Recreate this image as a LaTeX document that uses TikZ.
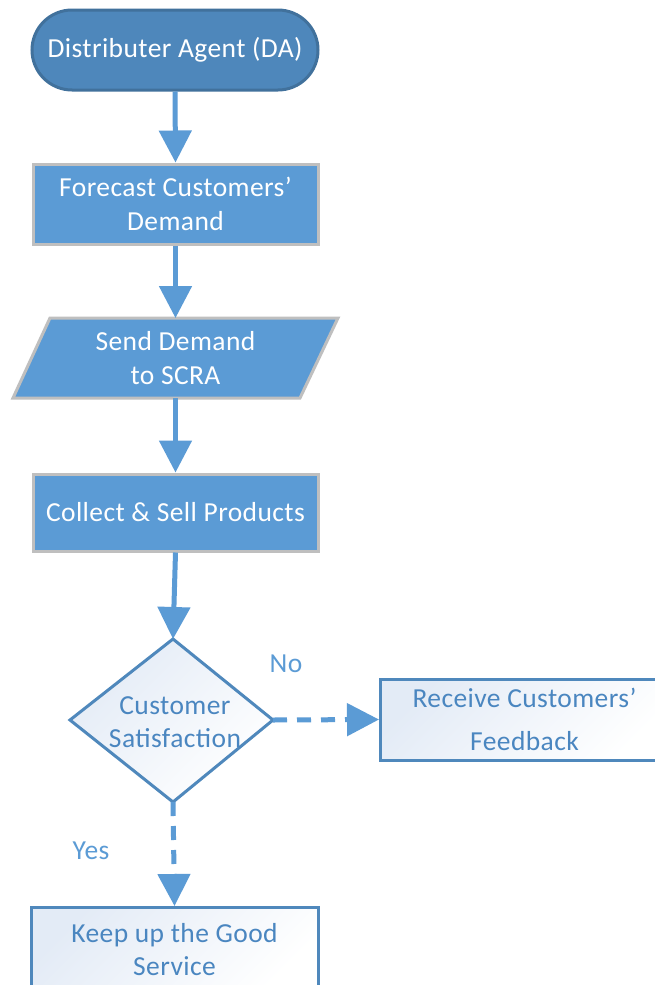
\documentclass[tikz,border=0pt]{standalone}
\usepackage{fontspec}
\setmainfont{Carlito}[LetterSpace=1.5]
\usetikzlibrary{shapes.geometric,shapes.misc,arrows.meta}
\definecolor{mblue}{HTML}{5B9BD5}
\definecolor{dblue}{HTML}{4E87BB}
\definecolor{dborder}{HTML}{41719C}
\definecolor{gborder}{HTML}{BFBFBF}
\definecolor{lborder}{HTML}{4F88BC}
\definecolor{ltext}{HTML}{4A86C0}
\definecolor{pale}{HTML}{E3EBF6}
\tikzset{
  pt/.style={x=1pt,y=-1pt},
  bigfont/.style={font=\fontsize{27.5}{33.5}\selectfont},
  filledbox/.style={draw=gborder,line width=3pt,fill=mblue,text=white,bigfont,align=center},
  lightshade/.style={left color=pale,right color=white,shading angle=45},
  lightbox/.style={draw=lborder,line width=3pt,text=ltext,bigfont,align=center,lightshade},
  conn/.style={draw=mblue,line width=5pt,-{Triangle[length=32pt,width=32pt]}},
  dconn/.style={conn,dash pattern=on 14pt off 10pt},
  lbl/.style={text=mblue,bigfont}
}
\begin{document}
\begin{tikzpicture}[pt]
\useasboundingbox (0,0) rectangle (655,985);
\fill[white] (0,0) rectangle (655,985);
% terminal
\node[draw=dborder,line width=3pt,fill=dblue,text=white,rounded rectangle,minimum width=286pt,minimum height=80pt,inner sep=0pt,bigfont] (da) at (175,50) {Distributer Agent (DA)};
\node[filledbox,minimum width=285pt,minimum height=80pt,inner sep=0pt] (fc) at (175.5,204) {Forecast Customers'\\Demand};
\coordinate (p1) at (50,318);
\coordinate (p2) at (338,318);
\coordinate (p3) at (300,398);
\coordinate (p4) at (13,398);
\draw[draw=gborder,line width=3pt,fill=mblue] (p1) -- (p2) -- (p3) -- (p4) -- cycle;
\node[text=white,bigfont,align=center] (sd) at (175.5,358) {Send Demand\\to SCRA};
\coordinate (sdtop) at (175.5,318);
\coordinate (sdbot) at (175.5,398);
\node[filledbox,minimum width=285pt,minimum height=77pt,inner sep=0pt] (cs) at (175.5,512.5) {Collect \& Sell Products};
\coordinate (d1) at (173,639);
\coordinate (d2) at (273,720);
\coordinate (d3) at (173,802);
\coordinate (d4) at (70,720);
\draw[draw=lborder,line width=3pt,lightshade] (d1) -- (d2) -- (d3) -- (d4) -- cycle;
\node[text=ltext,bigfont,align=center] (dm) at (175,722) {Customer\\Satisfaction};
\node[lightbox,font=\fontsize{27.5}{43}\selectfont,minimum width=288pt,minimum height=81pt,inner sep=0pt,anchor=west] (rf) at (379,719.5) {Receive Customers'\\Feedback};
\node[lightbox,minimum width=287pt,minimum height=84pt,inner sep=0pt,anchor=north] (kg) at (174.5,906) {Keep up the Good\\Service};
\node[lbl] (no) at (286,664) {No};
\node[lbl] (yes) at (91,851) {Yes};
% connectors
\draw[conn] (da.south) -- (fc.north);
\draw[conn] (fc.south) -- (sdtop);
\draw[conn] (sdbot) -- (cs.north);
\draw[conn] (cs.south) -- (d1);
\draw[dconn] (d2) -- (rf.west);
\draw[dconn] (d3) -- (kg.north);
\end{tikzpicture}
\end{document}
